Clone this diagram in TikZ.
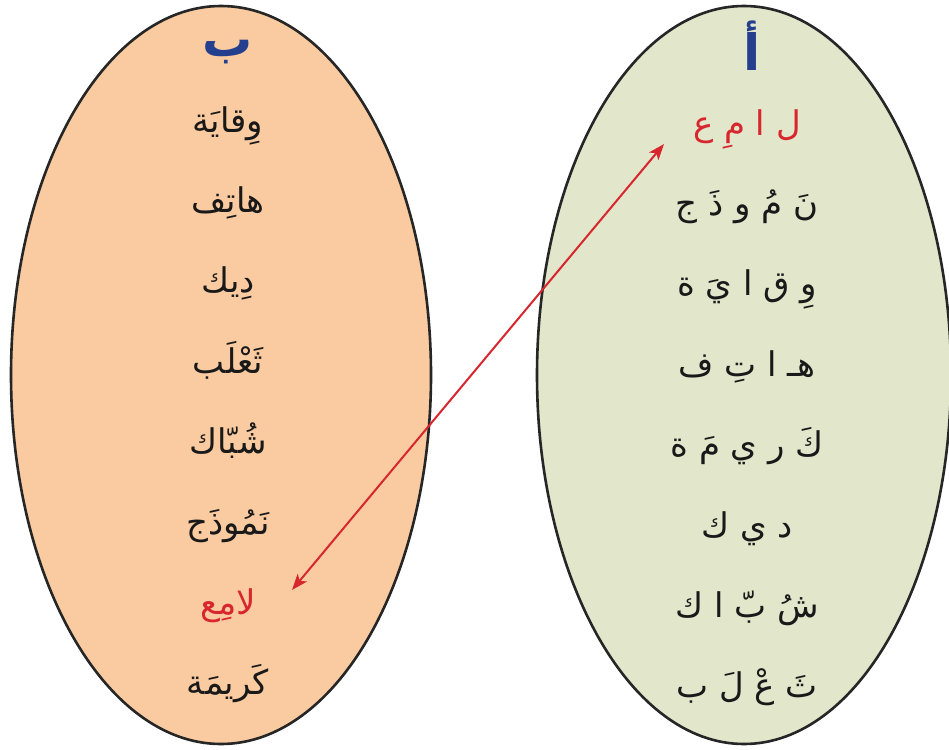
\documentclass[tikz,border=0pt]{standalone}
\usepackage{fontspec}
\newfontfamily\arabicfont[Script=Arabic]{DejaVu Sans}
\TeXXeTstate=1
\usetikzlibrary{positioning,arrows.meta,shapes.geometric}
\definecolor{peach}{HTML}{FACBA0}
\definecolor{sage}{HTML}{E2E6CB}
\definecolor{headblue}{HTML}{253F8F}
\definecolor{wordred}{HTML}{D7262E}

\begin{document}
\begin{tikzpicture}[x=1pt, y=-1pt, set/.style={ellipse, draw=black!85, line width=2.6pt, inner sep=0pt, minimum width=420pt, minimum height=738pt}, word/.style={font=\arabicfont\fontsize{34}{38}\selectfont, inner sep=0pt, text height=40pt, text depth=40pt, text=black!90}, head/.style={font=\arabicfont\bfseries\fontsize{50}{52}\selectfont, inner sep=0pt, text=headblue}, link/.style={wordred, line width=2pt, {Stealth[length=16pt,width=12pt,inset=4pt]}-{Stealth[length=16pt,width=12pt,inset=4pt]}}]

\useasboundingbox (0,0) rectangle (949,749);

\node (setB) [set, fill=peach] at (221,375) {};

\node (setA) [set, fill=sage, minimum width=414pt] at (744,375) {};

\node (headB) [head, anchor=base] at (228,57) {\beginR ب\endR};

\node (headA) [head, anchor=base] at (752,71) {\beginR أ\endR};

\node (wqayaB) [word] at (228,132) {\beginR وِقايَة\endR};
\node (hatifB) [word, below = 0pt of wqayaB] {\beginR هاتِف\endR};
\node (dikB) [word, below = 0pt of hatifB] {\beginR دِيك\endR};
\node (thalabB) [word, below = 0pt of dikB] {\beginR ثَعْلَب\endR};
\node (shubbakB) [word, below = 0pt of thalabB] {\beginR شُبّاك\endR};
\node (namudhajB) [word, below = 0pt of shubbakB] {\beginR نَمُوذَج\endR};
\node (lamiB) [word, text=wordred, below = 0pt of namudhajB] {\beginR لامِع\endR};
\node (karimaB) [word, below = 0pt of lamiB] {\beginR كَريمَة\endR};

\node (lamiA) [word, text=wordred] at (747,135) {\beginR ل ا مِ ع\endR};
\node (namudhajA) [word, below = 0pt of lamiA] {\beginR نَ مُ و ذَ ج\endR};
\node (wqayaA) [word, below = 0pt of namudhajA] {\beginR وِ ق ا يَ ة\endR};
\node (hatifA) [word, below = 0pt of wqayaA] {\beginR هـ ا تِ ف\endR};
\node (karimaA) [word, below = 0pt of hatifA] {\beginR كَ ر ي مَ ة\endR};
\node (dikA) [word, below = 0pt of karimaA] {\beginR د ي ك\endR};
\node (shubbakA) [word, below = 0pt of dikA] {\beginR شُ بّ ا ك\endR};
\node (thalabA) [word, below = 0pt of shubbakA] {\beginR ثَ عْ لَ ب\endR};

\coordinate (tipA) at (664,144);
\coordinate (tipB) at (292,590);
\draw[link] (tipA) -- (tipB);
\end{tikzpicture}
\end{document}
